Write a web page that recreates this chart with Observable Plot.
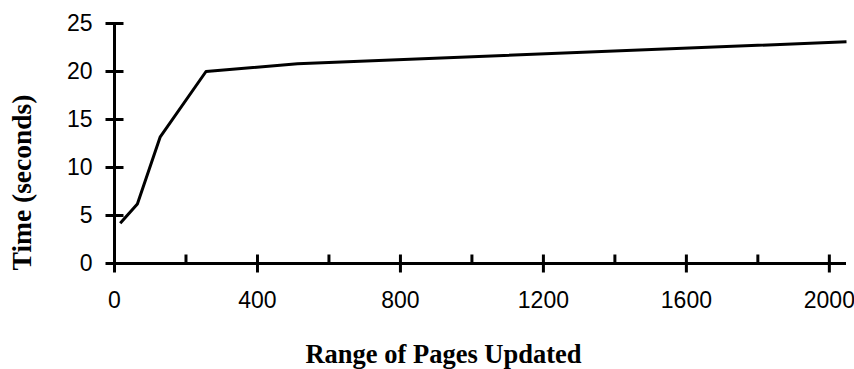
<!DOCTYPE html>
<html>
<head>
<meta charset="utf-8">
<script src="https://cdn.jsdelivr.net/npm/d3@7"></script>
<script src="https://cdn.jsdelivr.net/npm/@observablehq/plot@0.6"></script>
<style>
  html, body { margin: 0; padding: 0; background: #fff; }
</style>
</head>
<body>
<div id="chart"></div>
<script>
const pages = [16, 64, 128, 256, 512, 2048];
const seconds = [4.2, 6.2, 13.2, 20.0, 20.8, 23.1];
const xMajorTicks = [0, 400, 800, 1200, 1600, 2000];
const xMinorTicks = [200, 600, 1000, 1400, 1800];
const yTicks = [0, 5, 10, 15, 20, 25];
const xTitle = "Range of Pages Updated";
const yTitle = "Time (seconds)";

const data = pages.map((p, i) => ({pages: p, seconds: seconds[i]}));

const tickShape = {
  draw(context, l) { context.moveTo(0, 0); context.lineTo(0, -l); }
};

const chart = Plot.plot({
  width: 854,
  height: 369,
  marginLeft: 114,
  marginRight: 8,
  marginTop: 23,
  marginBottom: 106,
  style: {fontFamily: "Liberation Sans", fontSize: "23px", color: "black", background: "white", overflow: "visible"},
  x: {domain: [0, 2048]},
  y: {domain: [0, 25]},
  marks: [
    Plot.axisX({ticks: xMajorTicks, tickFormat: d3.format("d"), tickSize: 0, tickPadding: 28, label: null, fontSize: 23}),
    Plot.axisY({ticks: yTicks, tickFormat: d3.format("d"), tickSize: 0, tickPadding: 22, label: null, fontSize: 23}),
    Plot.ruleY([0], {stroke: "black", strokeWidth: 3}),
    Plot.ruleX([0], {stroke: "black", strokeWidth: 3}),
    Plot.vector(xMajorTicks, {x: d => d, y: () => 0, length: 18, rotate: 0, anchor: "middle", shape: tickShape, stroke: "black", strokeWidth: 3, strokeLinecap: "butt"}),
    Plot.vector(xMinorTicks, {x: d => d, y: () => 0, length: 9, rotate: 0, anchor: "start", shape: tickShape, stroke: "black", strokeWidth: 3, strokeLinecap: "butt"}),
    Plot.vector(yTicks, {x: () => 0, y: d => d, length: 18, rotate: 90, anchor: "middle", shape: tickShape, stroke: "black", strokeWidth: 3, strokeLinecap: "butt"}),
    Plot.line(data, {x: "pages", y: "seconds", stroke: "black", strokeWidth: 3, strokeLinecap: "butt"}),
    Plot.text([xTitle], {frameAnchor: "bottom", dx: -37, dy: 91, text: d => d, fontFamily: "Liberation Serif", fontWeight: "bold", fontSize: 26.5, lineAnchor: "middle"}),
    Plot.text([yTitle], {frameAnchor: "left", textAnchor: "middle", dx: -92, dy: 39, rotate: -90, text: d => d, fontFamily: "Liberation Serif", fontWeight: "bold", fontSize: 27.5, lineAnchor: "middle"})
  ]
});
document.getElementById("chart").appendChild(chart);
</script>
</body>
</html>
